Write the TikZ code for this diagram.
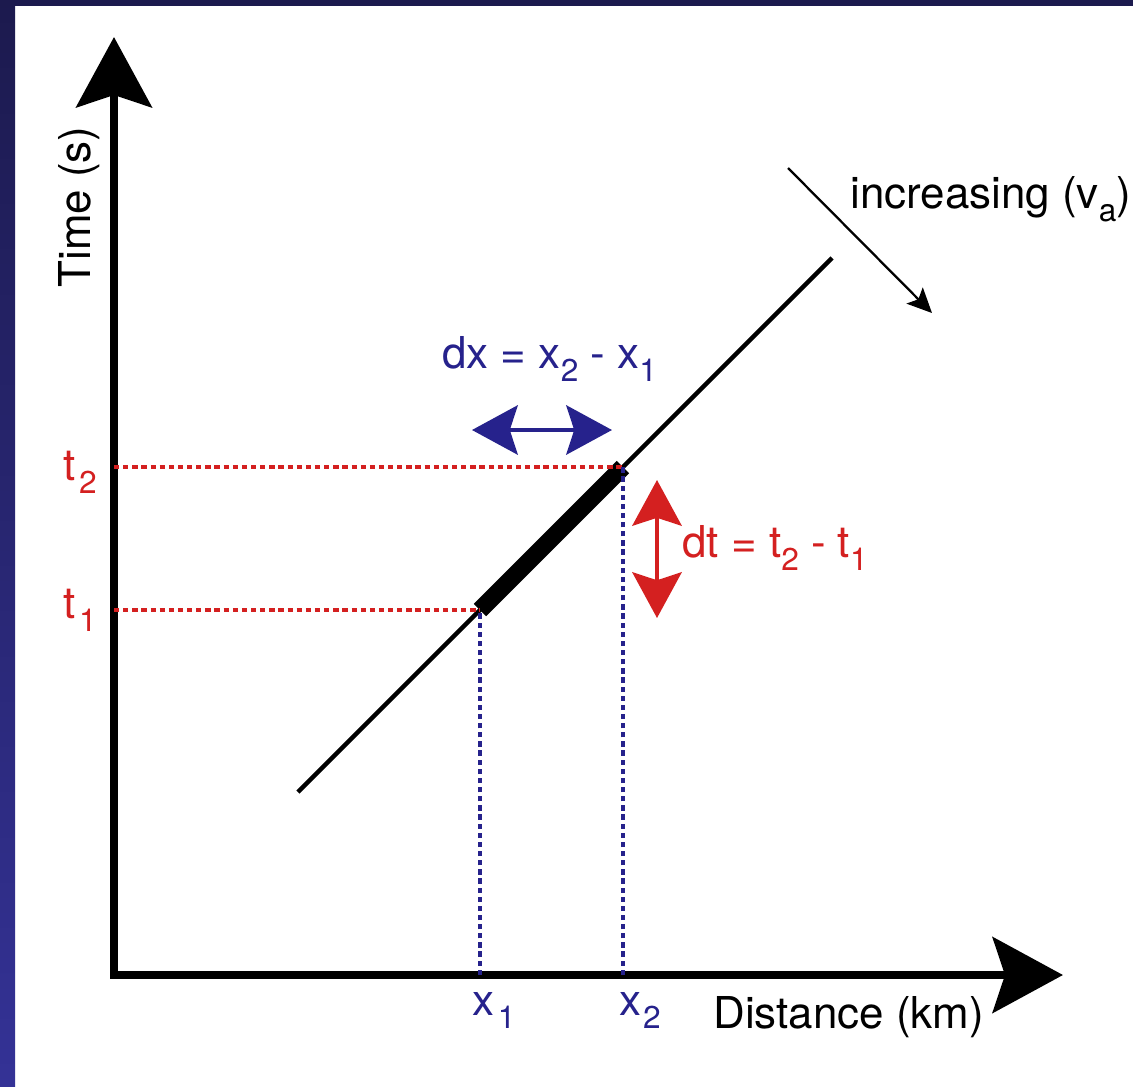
\documentclass[tikz,border=0pt]{standalone}
\usepackage{fontspec}
\setmainfont{TeX Gyre Heros}
\usetikzlibrary{arrows.meta}
\definecolor{navy}{RGB}{28,26,78}
\definecolor{frameblue}{RGB}{52,50,150}
\definecolor{dxblue}{RGB}{38,34,140}
\definecolor{dtred}{RGB}{212,32,32}
\newcommand\lsub[1]{\raisebox{-0.3em}{\fontsize{18}{20}\selectfont #1}}

\begin{document}
\begin{tikzpicture}[x=0.02cm,y=0.02cm,every node/.style={inner sep=0pt,font=\fontsize{25}{30}\selectfont}]
\tikzset{axis/.style={line width=4.8pt,{Stealth[length=40pt,width=43pt,inset=7pt]}-{Stealth[length=40pt,width=43pt,inset=7pt]}}}
\tikzset{dots/.style={line width=2.8pt,dash pattern=on 3pt off 2.2pt}}
\tikzset{span/.style={line width=2.5pt,{Stealth[length=26pt,width=28pt,inset=4.5pt]}-{Stealth[length=26pt,width=28pt,inset=4.5pt]}}}
% frame
\useasboundingbox (0,0) rectangle (1133,-1086);
\fill[white] (0,0) rectangle (1133,-1086);
\shade[top color=navy,bottom color=frameblue] (0,0) rectangle (15,-1086);
\fill[navy] (0,0) rectangle (1133,-6);
% axes
\coordinate (O) at (114,-975);
\coordinate (T) at (114,-37);
\coordinate (X) at (1063,-975);
\draw[axis] (T) -- (O) -- (X);
% travel time line
\coordinate (lo) at (298,-792);
\coordinate (hi) at (832,-258);
\coordinate (p1) at (480,-610);
\coordinate (p2) at (623,-467);
\draw[line width=2.5pt] (lo) -- (hi);
\draw[line width=10pt] (p1) -- (p2);
\draw[dots,dtred] (p1 -| O) -- (p1);
\draw[dots,dtred] (p2 -| O) -- (p2);
\draw[dots,dxblue] (p1 |- O) -- (p1);
\draw[dots,dxblue] (p2 |- O) -- (p2);
% spans
\coordinate (dxl) at (472,-430);
\coordinate (dxr) at (612,-430);
\coordinate (dtt) at (657,-480);
\coordinate (dtb) at (657,-618);
\draw[span,dxblue] (dxl) -- (dxr);
\draw[span,dtred] (dtt) -- (dtb);
\coordinate (inc1) at (788,-168);
\coordinate (inc2) at (932,-313);
\draw[line width=1.3pt,-{Stealth[length=14pt,width=13pt,inset=3pt]}] (inc1) -- (inc2);
% labels
\node[rotate=90,anchor=base] (time) at (90,-207) {Time (s)};
\node[anchor=base west] (dist) at (713,-1028) {Distance (km)};
\node[anchor=base west,dtred] (t2) at (63,-480) {t\kern2pt\lsub{2}};
\node[anchor=base west,dtred] (t1) at (63,-618) {t\kern2pt\lsub{1}};
\node[anchor=base west,dxblue] (x1) at (472,-1015) {x\kern2pt\lsub{1}};
\node[anchor=base west,dxblue] (x2) at (619,-1015) {x\kern1pt\lsub{2}};
\node[anchor=base west,dxblue] (dx) at (442,-368) {dx = x\lsub{2} - x\lsub{1}};
\node[anchor=base west,dtred] (dt) at (682,-557) {dt = t\lsub{2} - t\lsub{1}};
\node[anchor=base west] (inc) at (850,-208) {increasing (v\lsub{a})};
\end{tikzpicture}
\end{document}
